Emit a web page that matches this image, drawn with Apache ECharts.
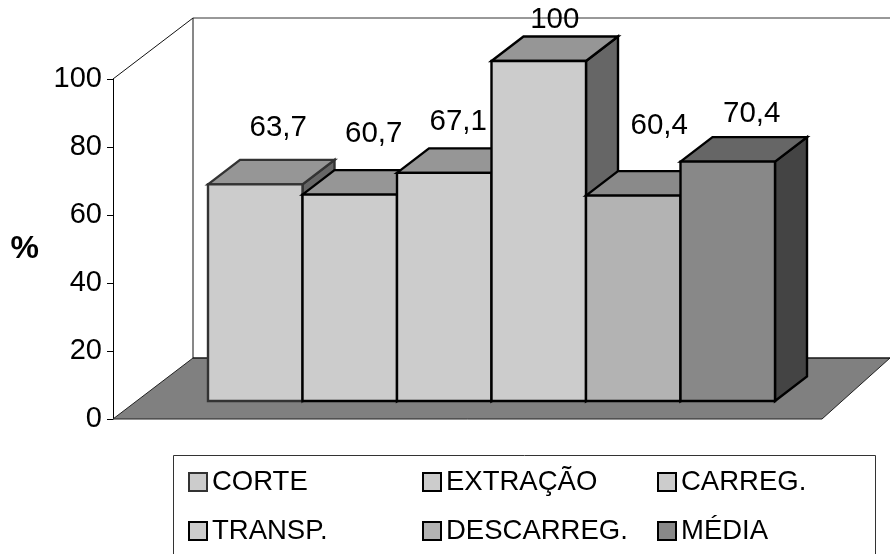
<!DOCTYPE html>
<html><head><meta charset="utf-8">
<style>html,body{margin:0;padding:0;background:#fff}#c{width:890px;height:554px}</style>
<script src="https://cdn.jsdelivr.net/npm/echarts@6/dist/echarts.min.js"></script>
</head><body><div id="c"></div>
<script>
const categories = ['CORTE','EXTRAÇÃO','CARREG.','TRANSP.','DESCARREG.','MÉDIA'];
const values = [63.7,60.7,67.1,100,60.4,70.4];
const valueLabels = ['63,7','60,7','67,1','100','60,4','70,4'];
const yTickMax = 100, yTickStep = 20;

// styles, per bar
const frontFill = ['#cccccc','#cccccc','#cccccc','#cccccc','#b3b3b3','#888888'];
const topFill   = ['#969696','#969696','#969696','#969696','#8a8a8a','#666666'];
const sideFill  = ['#666666','#666666','#666666','#666666','#666666','#444444'];
const edge      = ['#333333','#000000','#000000','#000000','#000000','#000000'];
const labelNudge = [[23,-57],[24,-61],[14,-51],[16,-41],[26,-70],[24,-48]];
const legendPos = [[188,0],[422,0],[657,0],[188,1],[422,1],[657,1]];
const FONT = '"Liberation Sans", Arial, sans-serif';
const DX = 32, DY = -24.5;

const chart = echarts.init(document.getElementById('c'), null, {renderer:'canvas'});

function frameRender(params, api){
  const a = api.coord([0,0]), b = api.coord([100,0]), t = api.coord([0,100]);
  const dl = [80,-61], dr = [68,-61];
  const style = (fill,stroke,w)=>({fill:fill,stroke:stroke,lineWidth:w});
  return {type:'group',silent:true,children:[
    {type:'polygon',shape:{points:[[a[0],a[1]],[a[0]+dl[0],a[1]+dl[1]],[b[0]+dr[0],b[1]+dr[1]],[b[0],b[1]]]},style:style('#808080','#222222',1)},
    {type:'line',shape:{x1:t[0],y1:t[1],x2:t[0]+dl[0],y2:t[1]+dl[1]},style:{stroke:'#111111',lineWidth:1}},
    {type:'line',shape:{x1:t[0]+dl[0],y1:t[1]+dl[1],x2:b[0]+dr[0],y2:t[1]+dr[1]},style:{stroke:'#333333',lineWidth:1}},
    {type:'line',shape:{x1:t[0]+dl[0],y1:t[1]+dl[1],x2:a[0]+dl[0],y2:a[1]+dl[1]},style:{stroke:'#111111',lineWidth:1}},
    {type:'line',shape:{x1:a[0]+dl[0],y1:a[1]+dl[1],x2:b[0]+dr[0],y2:b[1]+dr[1]},style:{stroke:'#111111',lineWidth:1}}
  ]};
}

function barRender(i){
  return function(params, api){
    const c = api.coord([categories[i],0]), top = api.coord([categories[i],api.value(1)]);
    const w = api.size([1,0])[0];
    const L = c[0]-w/2, R = c[0]+w/2, B = c[1], T = top[1];
    const st = f => ({fill:f,stroke:edge[i],lineWidth:2.4,lineJoin:'miter'});
    return {type:'group',silent:true,children:[
      {type:'polygon',shape:{points:[[R,B],[R+DX,B+DY],[R+DX,T+DY],[R,T]]},style:st(sideFill[i])},
      {type:'polygon',shape:{points:[[L,T],[L+DX,T+DY],[R+DX,T+DY],[R,T]]},style:st(topFill[i])},
      {type:'rect',shape:{x:L,y:T,width:R-L,height:B-T},style:st(frontFill[i])}
    ]};
  };
}
function labelRender(params, api){
  const i = params.dataIndex;
  const p = api.coord([categories[i],api.value(1)]);
  return {type:'text',silent:true,z2:50,style:{
    text:valueLabels[i],x:p[0]+labelNudge[i][0],y:p[1]+labelNudge[i][1],
    align:'center',verticalAlign:'middle',font:'29.5px '+FONT,fill:'#000'}};
}

const series = [{
  type:'custom',name:'frame',xAxisIndex:0,yAxisIndex:0,renderItem:frameRender,data:[[0,0]],silent:true,z:1
}];
categories.forEach((name,i)=>{
  series.push({type:'custom',name:name,xAxisIndex:1,yAxisIndex:1,z:2,silent:true,
    renderItem:barRender(i),encode:{x:0,y:1},
    itemStyle:{color:frontFill[i]},
    data:[[name,values[i]]]});
});
series.push({type:'custom',name:'labels',xAxisIndex:1,yAxisIndex:1,z:5,silent:true,
  renderItem:labelRender,encode:{x:0,y:1},
  data:categories.map((n,i)=>[n,values[i]])});

chart.setOption({
  animation:false,
  backgroundColor:'#fff',
  grid:[
    {left:113,top:79,width:709,height:340,outerBoundsMode:'none'},
    {left:208,top:61,width:567,height:340,outerBoundsMode:'none'}
  ],
  xAxis:[
    {type:'value',gridIndex:0,min:0,max:100,show:false},
    {type:'category',gridIndex:1,data:categories,show:false}
  ],
  yAxis:[
    {type:'value',gridIndex:0,min:0,max:yTickMax,interval:yTickStep,
     name:'%',nameLocation:'middle',nameRotate:0,nameGap:74,
     nameTextStyle:{fontFamily:FONT,fontSize:32,fontWeight:'bold',color:'#000',padding:[7,0,0,0]},
     axisLine:{show:true,lineStyle:{color:'#000',width:1}},
     axisTick:{show:true,length:6,lineStyle:{color:'#000',width:1}},
     axisLabel:{margin:11,fontFamily:FONT,fontSize:29,color:'#000'},
     splitLine:{show:false}},
    {type:'value',gridIndex:1,min:0,max:yTickMax,show:false}
  ],
  legend:categories.map((name,i)=>({
    left:legendPos[i][0],top:legendPos[i][1]===0?468:517,
    padding:0,itemWidth:18,itemHeight:18,itemGap:0,selectedMode:false,
    textStyle:{fontFamily:FONT,fontSize:27.5,color:'#000'},
    data:[{name:name,icon:'rect',itemStyle:{color:frontFill[i],borderColor:edge[i],borderWidth:2}}]
  })),
  graphic:[{type:'rect',silent:true,z:-1,shape:{x:173.5,y:455.5,width:702,height:120},
    style:{fill:'#fff',stroke:'#333',lineWidth:1}}],
  series:series
});
</script></body></html>
